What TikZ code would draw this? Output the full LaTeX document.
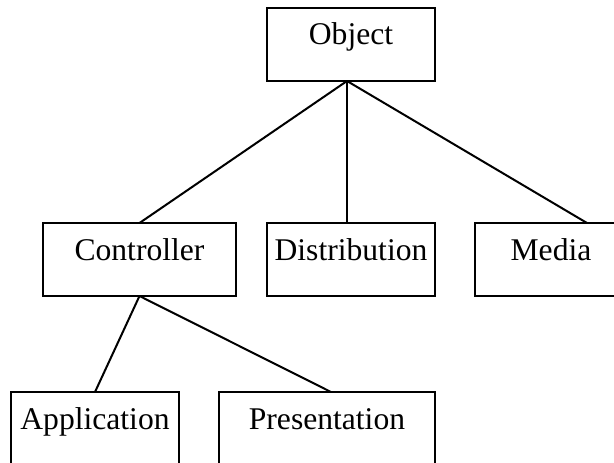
\documentclass[tikz,border=0pt]{standalone}
\usepackage{fontspec}
\setmainfont{Liberation Serif}
\usetikzlibrary{positioning}
\tikzset{
  classbox/.style={
    rectangle, draw=black, line width=2pt,
    inner sep=0pt, outer sep=0pt,
    text height=37pt, text depth=36pt,
    align=center, font=\fontsize{31.6}{38}\selectfont
  },
  link/.style={line width=2pt, draw=black},
}

\begin{document}
\begin{tikzpicture}[x=1pt, y=-1pt]
  \clip (0,0) rectangle (614,463);

  \node[classbox, anchor=north west, minimum width=168pt] (object) at (267,8) {Object};
  \node[classbox, anchor=north west, minimum width=193pt] (ctrl) at (43,223) {Controller};
  \node[classbox, minimum width=168pt, right=31pt of ctrl] (dist) {Distribution};
  \node[classbox, minimum width=152pt, right=40pt of dist] (media) {Media};
  \node[classbox, anchor=north west, minimum width=168pt] (app) at (11,392) {Application};
  \node[classbox, minimum width=216pt, right=40pt of app] (pres) {Presentation};

  \draw[link] ([xshift=-4pt]object.south) -- (ctrl.north);
  \draw[link] ([xshift=-4pt]object.south) -- ([xshift=-4pt]dist.north);
  \draw[link] ([xshift=-4pt]object.south) -- ([xshift=36pt]media.north);
  \draw[link] (ctrl.south) -- (app.north);
  \draw[link] (ctrl.south) -- ([xshift=4pt]pres.north);

\end{tikzpicture}
\end{document}
